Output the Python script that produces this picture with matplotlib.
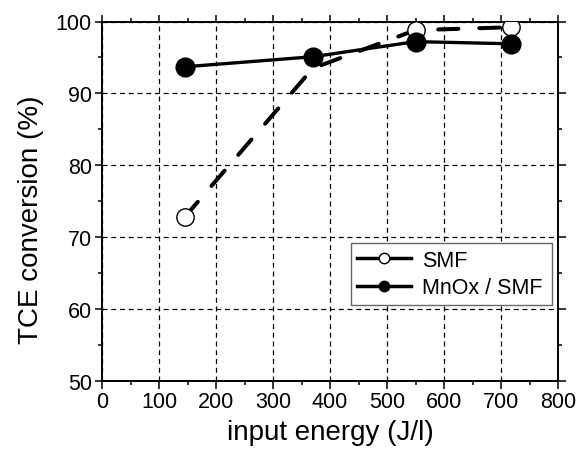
import matplotlib
matplotlib.use("Agg")
import matplotlib.pyplot as plt
from matplotlib.lines import Line2D
from matplotlib.ticker import MultipleLocator

plt.rcParams['font.family'] = ['Liberation Sans', 'DejaVu Sans']

energy_smf = [145, 370, 550, 717]
conv_smf = [72.8, 93.5, 98.8, 99.2]
energy_mnox = [145, 370, 550, 717]
conv_mnox = [93.7, 95.1, 97.2, 96.9]
xticks = [0, 100, 200, 300, 400, 500, 600, 700, 800]
yticks = [50, 60, 70, 80, 90, 100]

fig = plt.figure(figsize=(5.76, 4.52), dpi=100)
ax = fig.add_axes([102 / 576, 1 - 382 / 452, 456 / 576, 359.5 / 452])

ax.plot(energy_smf, conv_smf, color='black', lw=2.9, dashes=(5.0, 5.2),
        dash_capstyle='round', zorder=3)
ax.plot([energy_smf[0], energy_smf[2], energy_smf[3]],
        [conv_smf[0], conv_smf[2], conv_smf[3]], ls='none', marker='o', ms=12.5,
        mfc='white', mec='black', mew=1.0, zorder=4)
ax.plot(energy_mnox, conv_mnox, color='black', lw=2.4, marker='o', ms=13.5,
        mfc='black', mec='black', zorder=5)

ax.set_xlim(0, 800)
ax.set_ylim(50, 100)
ax.set_xticks(xticks)
ax.set_yticks(yticks)
ax.xaxis.set_minor_locator(MultipleLocator(50))
ax.yaxis.set_minor_locator(MultipleLocator(5))
ax.tick_params(which='both', direction='out', top=True, right=True,
               labeltop=False, labelright=False, width=1.1, labelsize=15.5,
               pad=2)
ax.tick_params(which='major', length=5.4)
ax.tick_params(which='minor', length=3.2)
for s in ax.spines.values():
    s.set_linewidth(1.4)
ax.grid(True, which='major', color='black', ls=(0, (4, 3)), lw=0.9)
ax.set_axisbelow(True)

ax.set_xlabel('input energy (J/l)', fontsize=20)
ax.set_ylabel('TCE conversion (%)', fontsize=20)
ax.xaxis.set_label_coords(0.5, (382 - 420) / 359.5)
ax.yaxis.set_label_coords((44 - 102) / 456, 1 - (220 - 22.3) / 359.5)

handles = [
    Line2D([], [], color='black', lw=2.5, marker='o', ms=7.5, mfc='white', mec='black'),
    Line2D([], [], color='black', lw=2.5, marker='o', ms=7.5, mfc='black', mec='black'),
]
leg = ax.legend(handles, ['SMF', 'MnOx / SMF'], loc='upper left',
                bbox_to_anchor=(0.546, 0.218, 0.44, 0.165), mode='expand',
                fontsize=15.5, frameon=True, fancybox=False, handlelength=2.5,
                handletextpad=0.5, borderaxespad=0, labelspacing=0.3,
                borderpad=0.3)
leg.get_frame().set_edgecolor('#666666')
leg.get_frame().set_linewidth(1.0)
leg.get_frame().set_alpha(1)

fig.savefig('out.png', dpi=100)
